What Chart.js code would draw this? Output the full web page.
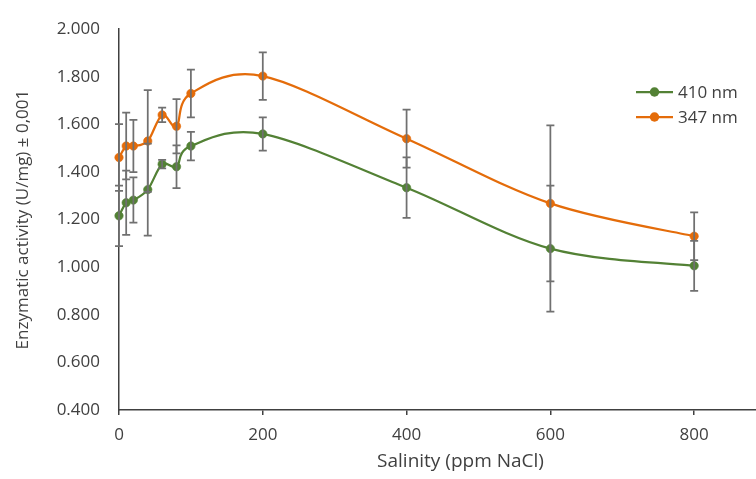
<!DOCTYPE html>
<html>
<head>
<meta charset="utf-8">
<title>Enzymatic activity vs salinity</title>
<script src="https://cdn.jsdelivr.net/npm/chart.js@4.4.1/dist/chart.umd.min.js"></script>
<style>
  html, body { margin: 0; padding: 0; background: #fff; }
  #chart { display: block; }
</style>
</head>
<body>
<canvas id="chart" width="756" height="479"></canvas>
<script>
// salinity steps, ppm NaCl
const salinity = [0, 10, 20, 40, 60, 80, 100, 200, 400, 600, 800];

// activity (U/mg) measured at 410 nm, with standard deviation
const activity410 = [1.216, 1.271, 1.282, 1.326, 1.433, 1.422, 1.509, 1.560, 1.334, 1.078, 1.006];
const sd410 = [0.127, 0.135, 0.095, 0.193, 0.018, 0.09, 0.06, 0.07, 0.127, 0.265, 0.105];

// activity (U/mg) measured at 347 nm, with standard deviation
const activity347 = [1.461, 1.509, 1.509, 1.530, 1.640, 1.592, 1.730, 1.803, 1.540, 1.268, 1.130];
const sd347 = [0.14, 0.14, 0.11, 0.214, 0.03, 0.114, 0.10, 0.10, 0.122, 0.328, 0.10];

const xTickValues = [0, 200, 400, 600, 800];
const yTickValues = [0.4, 0.6, 0.8, 1.0, 1.2, 1.4, 1.6, 1.8, 2.0];

// the x axis runs on past the right edge of the canvas; the title is
// centred on the full axis length (0..950)
const X_MAX = 886;
const X_FULL = 950;

const GREEN = "#538135";
const ORANGE = "#E46C0A";
const TEXT = "#404040";
const FONT = "'Open Sans', 'Noto Sans', sans-serif";

const toPoints = (ys) => ys.map((y, i) => ({ x: salinity[i], y }));

// vertical error bars with caps, drawn on top of the markers
const errorBars = {
    id: "errorBars",
    afterDatasetsDraw(chart, args, opts) {
        const { ctx, scales } = chart;
        ctx.save();
        ctx.strokeStyle = opts.color;
        ctx.lineWidth = opts.width;
        chart.data.datasets.forEach((ds, i) => {
            const meta = chart.getDatasetMeta(i);
            if (!ds.errors || meta.hidden) return;
            ds.data.forEach((pt, j) => {
                const err = ds.errors[j];
                const px = scales.x.getPixelForValue(pt.x);
                const top = scales.y.getPixelForValue(pt.y + err);
                const bottom = scales.y.getPixelForValue(pt.y - err);
                ctx.beginPath();
                ctx.moveTo(px, top);
                ctx.lineTo(px, bottom);
                ctx.moveTo(px - opts.cap, top);
                ctx.lineTo(px + opts.cap, top);
                ctx.moveTo(px - opts.cap, bottom);
                ctx.lineTo(px + opts.cap, bottom);
                ctx.stroke();
            });
        });
        ctx.restore();
    }
};

// spreadsheet-style smoothing: each control point sits 1/6 of the
// neighbour-to-neighbour distance away from its point
const smoothLines = {
    id: "smoothLines",
    beforeDatasetDraw(chart, args) {
        const line = args.meta.dataset;
        const pts = args.meta.data;
        line.updateControlPoints(chart.chartArea);
        for (let i = 0; i < pts.length; i++) {
            const p = pts[i];
            const prev = pts[Math.max(i - 1, 0)];
            const next = pts[Math.min(i + 1, pts.length - 1)];
            const dx = (next.x - prev.x) / 6;
            const dy = (next.y - prev.y) / 6;
            p.cp1x = p.x - dx;
            p.cp1y = p.y - dy;
            p.cp2x = p.x + dx;
            p.cp2y = p.y + dy;
        }
    }
};

// x axis title, centred on the whole axis rather than the visible part
const xTitle = {
    id: "xTitle",
    afterDraw(chart, args, opts) {
        const { ctx, scales } = chart;
        ctx.save();
        ctx.font = `${opts.size}px ${FONT}`;
        ctx.fillStyle = TEXT;
        ctx.textAlign = "center";
        ctx.textBaseline = "middle";
        ctx.fillText(opts.text, scales.x.getPixelForValue(X_FULL / 2), opts.y);
        ctx.restore();
    }
};

// key drawn inside the plot, top right
const seriesKey = {
    id: "seriesKey",
    afterDraw(chart, args, opts) {
        const ctx = chart.ctx;
        ctx.save();
        ctx.font = `${opts.size}px ${FONT}`;
        ctx.textBaseline = "middle";
        ctx.textAlign = "left";
        chart.data.datasets.forEach((ds, i) => {
            const y = opts.top + i * opts.spacing;
            ctx.strokeStyle = ds.borderColor;
            ctx.lineWidth = ds.borderWidth;
            ctx.beginPath();
            ctx.moveTo(opts.left, y);
            ctx.lineTo(opts.left + opts.lineLength, y);
            ctx.stroke();
            ctx.fillStyle = ds.pointBackgroundColor;
            ctx.beginPath();
            ctx.arc(opts.left + opts.lineLength / 2, y, ds.pointRadius + 0.5, 0, Math.PI * 2);
            ctx.fill();
            ctx.fillStyle = TEXT;
            ctx.fillText(ds.label, opts.left + opts.lineLength + 5, y + 1);
        });
        ctx.restore();
    }
};

const series = (label, values, errors, color) => ({
    label,
    data: toPoints(values),
    errors,
    borderColor: color,
    backgroundColor: color,
    pointBackgroundColor: color,
    pointBorderColor: color,
    borderWidth: 2.25,
    pointRadius: 4.2,
    pointBorderWidth: 0.6,
    tension: 0.4,
    fill: false,
    clip: false,
});

new Chart(document.getElementById("chart"), {
    type: "line",
    data: {
        datasets: [
            series("410 nm", activity410, sd410, GREEN),
            series("347 nm", activity347, sd347, ORANGE),
        ],
    },
    options: {
        responsive: false,
        animation: false,
        layout: { autoPadding: false, padding: { top: 23, right: 0, bottom: 0, left: 0 } },
        plugins: {
            legend: { display: false },
            tooltip: { enabled: false },
            errorBars: { color: "#707070", width: 1.75, cap: 4 },
            seriesKey: { left: 636, top: 92, spacing: 25, lineLength: 37, size: 17 },
            xTitle: { text: "Salinity (ppm NaCl)", y: 462, size: 19 },
        },
        scales: {
            x: {
                type: "linear",
                min: 0,
                max: X_MAX,
                afterFit: (s) => { s.height = 69; s.paddingRight = 0; },
                afterBuildTicks: (s) => { s.ticks = xTickValues.map((v) => ({ value: v })); },
                grid: { drawOnChartArea: false, drawTicks: true, tickLength: 5, color: TEXT, lineWidth: 1.5 },
                border: { color: TEXT, width: 1.5 },
                ticks: { color: TEXT, padding: 10, font: { family: FONT, size: 17 } },
            },
            y: {
                min: 0.4,
                max: 2.0,
                afterFit: (s) => { s.width = 119; },
                afterBuildTicks: (s) => { s.ticks = yTickValues.map((v) => ({ value: v })); },
                grid: { display: false, drawTicks: false },
                border: { color: TEXT, width: 1.5 },
                ticks: {
                    color: TEXT,
                    padding: 19,
                    font: { family: FONT, size: 17 },
                    callback: (v) => Number(v).toFixed(3),
                },
                title: {
                    display: true,
                    text: "Enzymatic activity (U/mg) ± 0,001",
                    color: TEXT,
                    padding: { top: 13, bottom: 0 },
                    font: { family: FONT, size: 17 },
                },
            },
        },
    },
    plugins: [smoothLines, errorBars, xTitle, seriesKey],
});
</script>
</body>
</html>
